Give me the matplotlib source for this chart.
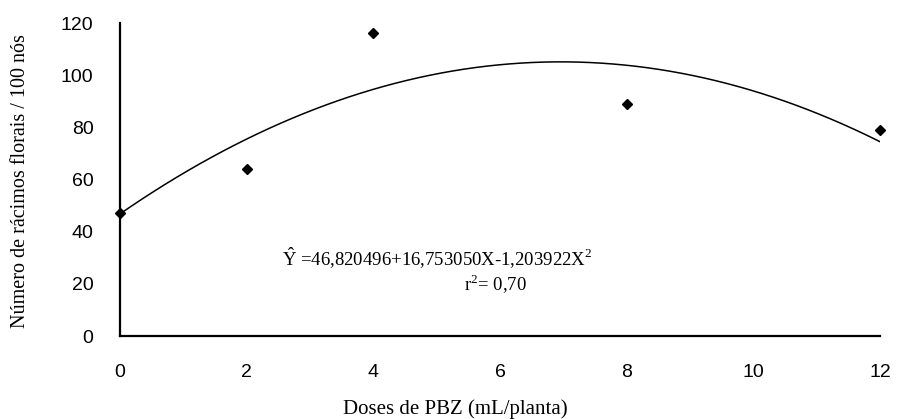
import matplotlib.pyplot as plt
import numpy as np

# Observed means per dose
doses = [0, 2, 4, 8, 12]
racimos = [47, 64, 116, 89, 79]

# Quadratic fit coefficients (b0, b1, b2)
coef = [46.820496, 16.753050, -1.203922]
r2_text = '0,70'

xticks = [0, 2, 4, 6, 8, 10, 12]
yticks = [0, 20, 40, 60, 80, 100, 120]

plt.rcParams.update({
    'font.family': 'Liberation Sans',
    'xtick.labelsize': 14,
    'ytick.labelsize': 14,
    'mathtext.fontset': 'custom',
    'mathtext.rm': 'Liberation Serif',
})

fig = plt.figure(figsize=(9, 4.19), dpi=100)
ax = fig.add_axes([120/900, 1 - 336/419, 760/900, (336-23)/419])

xf = np.linspace(0, 12, 200)
yf = coef[0] + coef[1]*xf + coef[2]*xf**2
ax.plot(xf, yf, color='black', linewidth=1.1)
ax.plot(doses, racimos, 'D', color='black', markersize=5.5, clip_on=False)

ax.set_xlim(0, 12)
ax.set_ylim(0, 120)
ax.set_xticks(xticks)
ax.set_yticks(yticks)
ax.tick_params(length=0, pad=20, axis='x')
ax.tick_params(length=0, pad=19, axis='y')
for s in ['top', 'right']:
    ax.spines[s].set_visible(False)
for s in ['left', 'bottom']:
    ax.spines[s].set_linewidth(1.6)

fig.text(455/900, 1 - 409/419, 'Doses de PBZ (mL/planta)', ha='center', va='center',
         family='Liberation Serif', fontsize=15)
fig.text(21/900, 1 - 181/419, 'Número de rácimos florais / 100 nós', rotation=90,
         ha='center', va='center', family='Liberation Serif', fontsize=14.5)

eq = r'$\mathregular{\hat{Y}}$ =46,820496+16,753050X-1,203922X$^{\mathregular{2}}$'
fig.text(437/900, 1 - 258/419, eq, ha='center', va='center',
         family='Liberation Serif', fontsize=13.5)
fig.text(495/900, 1 - 284/419, r'r$^{\mathregular{2}}$= ' + r2_text, ha='center', va='center',
         family='Liberation Serif', fontsize=13.5)

fig.savefig('out.png', dpi=100)
